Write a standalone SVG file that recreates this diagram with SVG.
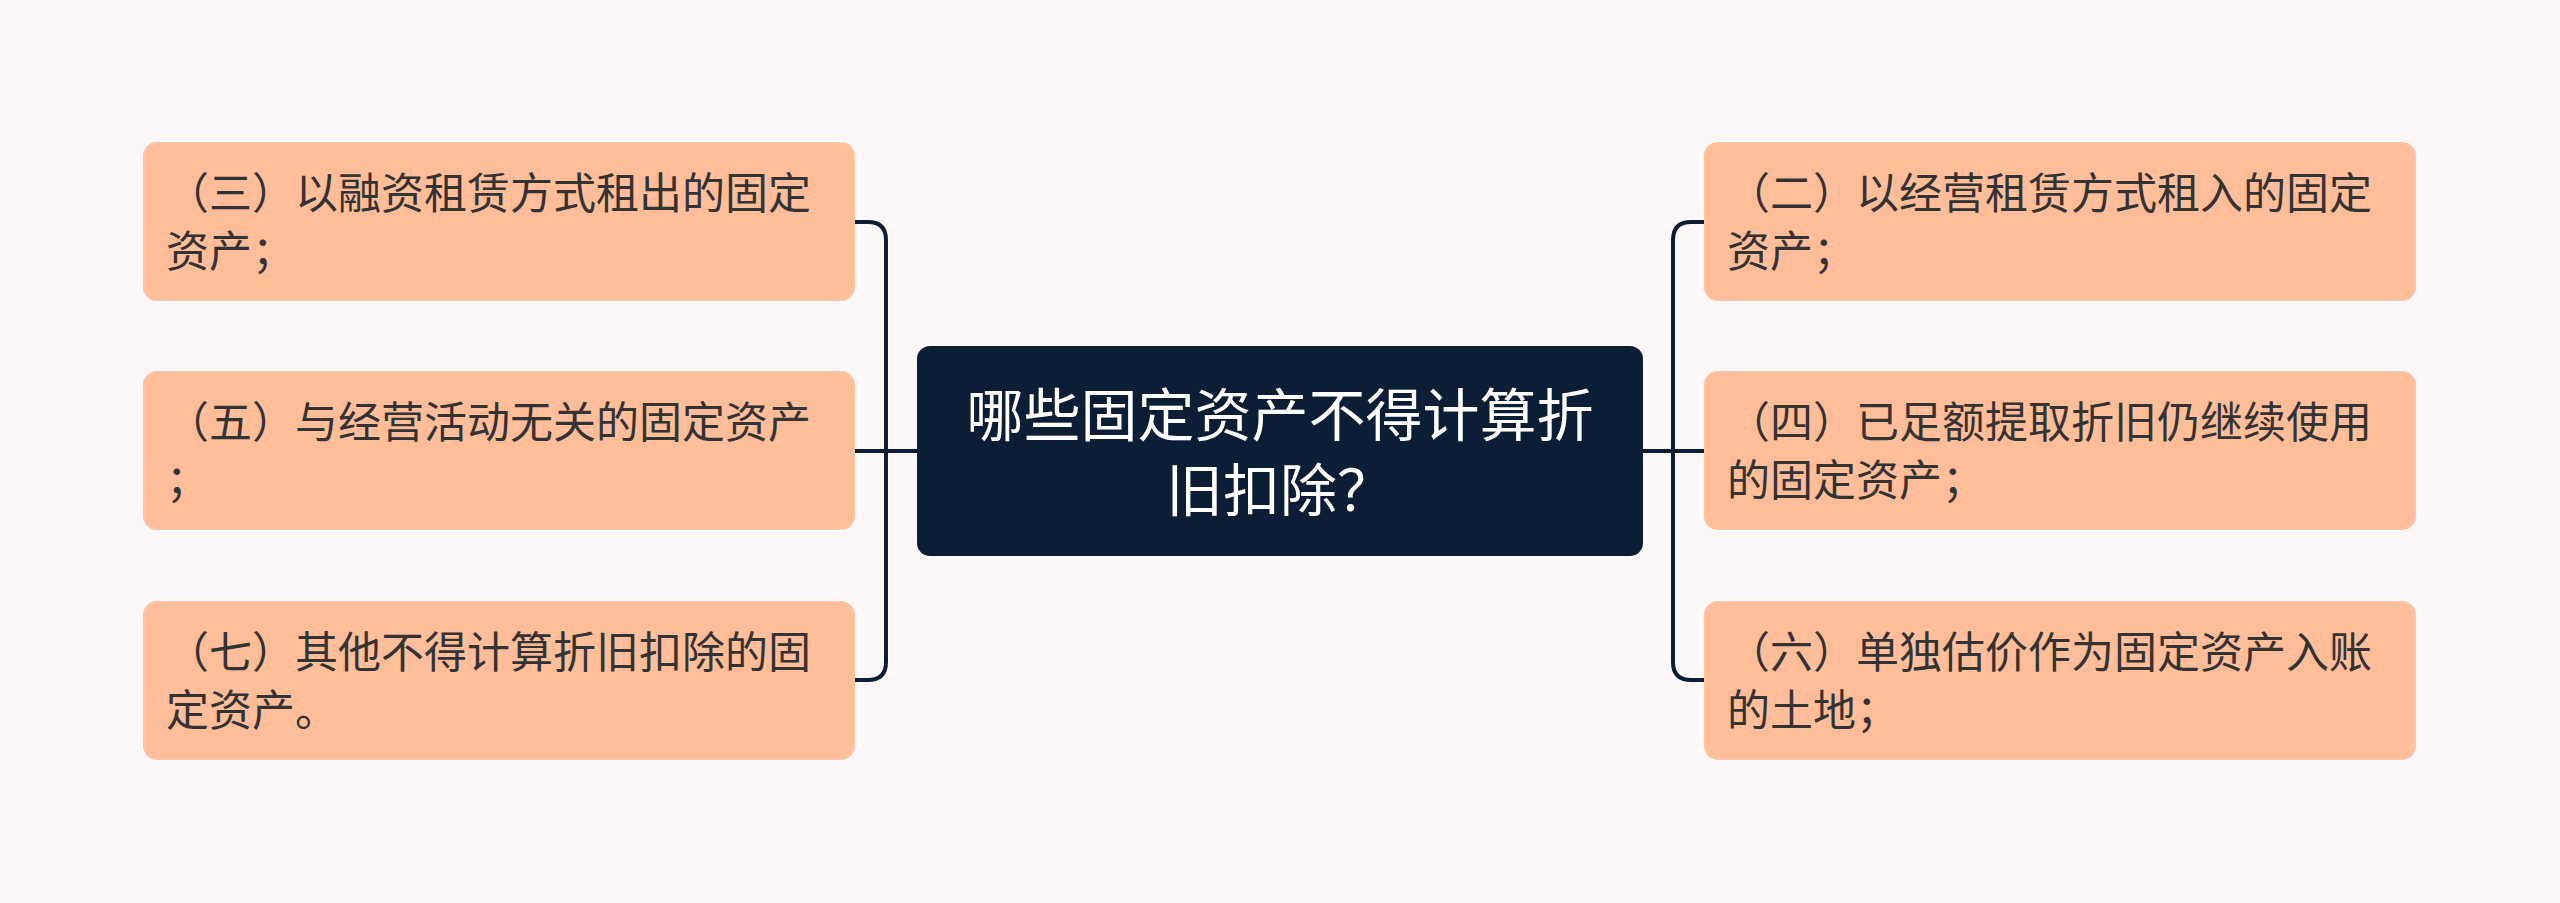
<svg xmlns="http://www.w3.org/2000/svg" width="2560" height="903" viewBox="0 0 2560 903">
<style>
.bg{fill:#fdf8f7}
.leaf{fill:#ffbd99;stroke:#fbc4a6;stroke-width:2}
.root{fill:#0c1d36;stroke:#0c1d36;stroke-width:2}
.lt{font-family:"Noto Sans CJK SC","Noto Sans",sans-serif;font-size:43px;fill:#333333}
.rt{font-family:"Noto Sans CJK SC","Noto Sans",sans-serif;font-size:57px;fill:#ffffff;text-anchor:middle}
.con{fill:none;stroke:#0c1d36;stroke-width:4;stroke-linecap:round}
</style>
<rect class="bg" x="0" y="0" width="2560" height="903"/>
<g id="connectors">
<path class="con" d="M918,451 H854"/>
<path class="con" d="M854,222 H868 Q886,222 886,240 V662 Q886,680 868,680 H854"/>
<path class="con" d="M1642,451 H1705"/>
<path class="con" d="M1705,222 H1691 Q1673,222 1673,240 V662 Q1673,680 1691,680 H1705"/>
</g>
<g id="root">
<rect class="root" x="918" y="347" width="724" height="208" rx="12"/>
<text class="rt" x="1280" y="436">哪些固定资产不得计算折</text>
<text class="rt" x="1280" y="511">旧扣除？</text>
</g>
<g id="n3">
<rect class="leaf" x="144" y="143" width="710" height="157" rx="13"/>
<text class="lt" x="166" y="209">（三）以融资租赁方式租出的固定</text>
<text class="lt" x="166" y="267">资产；</text>
</g>
<g id="n5">
<rect class="leaf" x="144" y="372" width="710" height="157" rx="13"/>
<text class="lt" x="166" y="438">（五）与经营活动无关的固定资产</text>
<text class="lt" x="166" y="496">；</text>
</g>
<g id="n7">
<rect class="leaf" x="144" y="602" width="710" height="157" rx="13"/>
<text class="lt" x="166" y="668">（七）其他不得计算折旧扣除的固</text>
<text class="lt" x="166" y="726">定资产。</text>
</g>
<g id="n2">
<rect class="leaf" x="1705" y="143" width="710" height="157" rx="13"/>
<text class="lt" x="1727" y="209">（二）以经营租赁方式租入的固定</text>
<text class="lt" x="1727" y="267">资产；</text>
</g>
<g id="n4">
<rect class="leaf" x="1705" y="372" width="710" height="157" rx="13"/>
<text class="lt" x="1727" y="438">（四）已足额提取折旧仍继续使用</text>
<text class="lt" x="1727" y="496">的固定资产；</text>
</g>
<g id="n6">
<rect class="leaf" x="1705" y="602" width="710" height="157" rx="13"/>
<text class="lt" x="1727" y="668">（六）单独估价作为固定资产入账</text>
<text class="lt" x="1727" y="726">的土地；</text>
</g>
</svg>
